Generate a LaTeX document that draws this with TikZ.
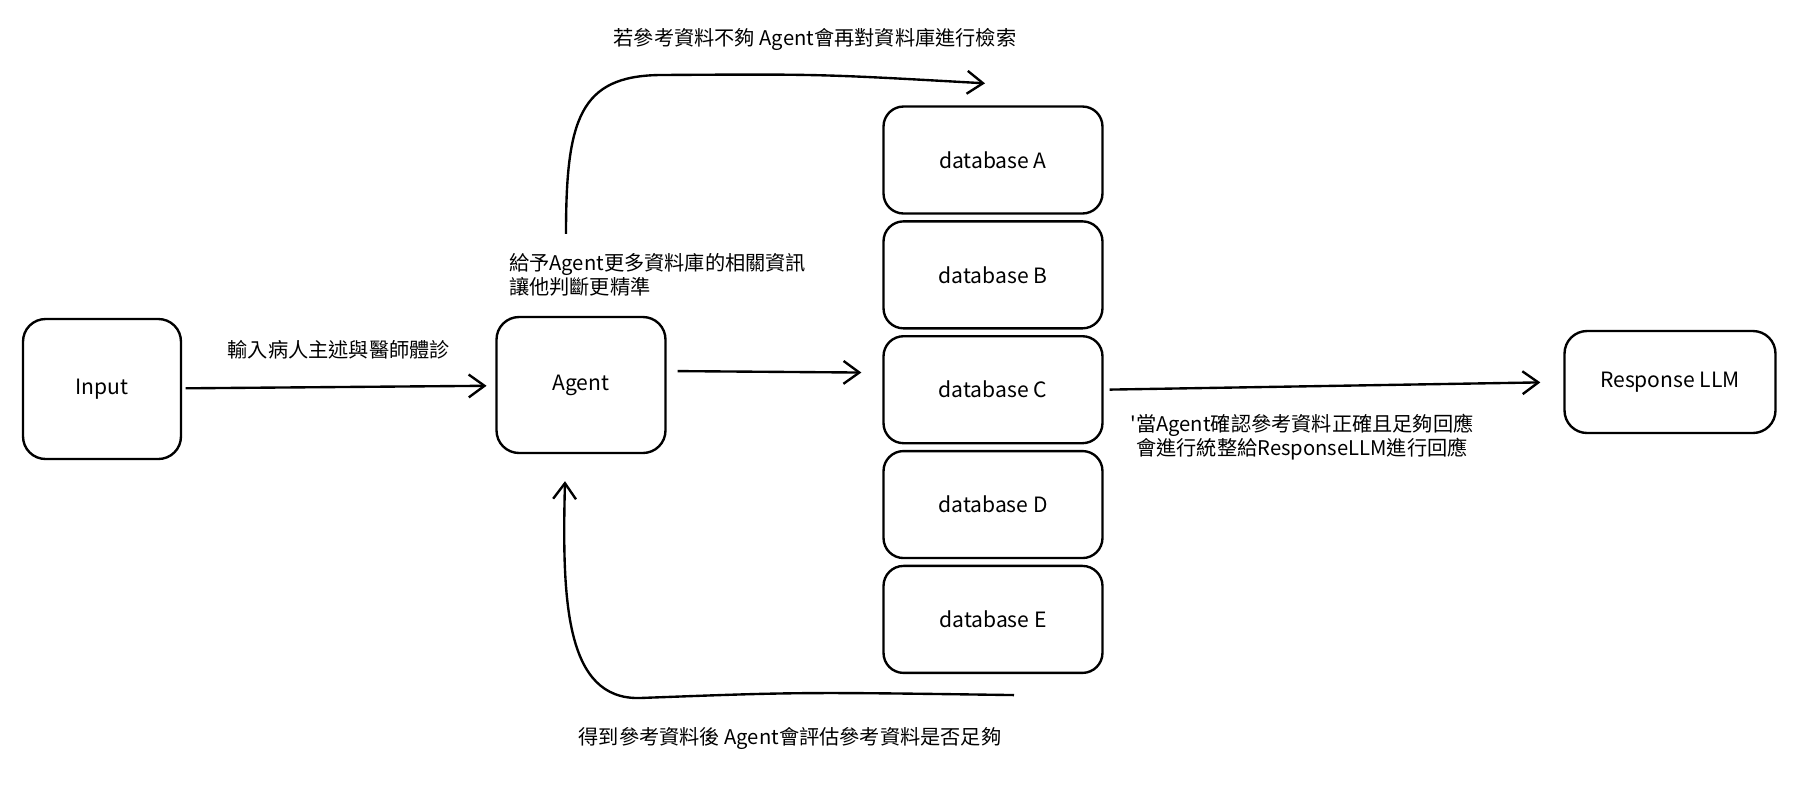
\documentclass[tikz,border=0pt]{standalone}
\usepackage{fontspec}
\setmainfont{Noto Sans CJK TC}[Ligatures=TeXOff]
\usetikzlibrary{arrows.meta,calc,positioning}
\tikzset{
    box/.style={draw, line width=1.35pt, rounded corners=0.45cm, align=center, font=\fontsize{12}{14}\selectfont},
    dbbox/.style={box, rounded corners=0.4cm, minimum width=4.38cm, minimum height=2.14cm},
    flow/.style={-{Straight Barb[length=9pt,width=13pt]}, line width=1.35pt},
    lbl/.style={font=\fontsize{11.5}{14}\selectfont, inner sep=1pt}
}
\begin{document}
\begin{tikzpicture}[x=0.02cm,y=-0.02cm]
    \useasboundingbox (0,0) rectangle (1800,789);
    % Main boxes
    \node[box, minimum width=3.16cm, minimum height=2.8cm] (input) at (102,389) {Input};
    \node[box, minimum width=3.38cm, minimum height=2.72cm] (agent) at (581,385) {Agent};
    \node[box, minimum width=4.22cm, minimum height=2.04cm] (resp) at (1670,382) {Response LLM};
    % Database stack
    \node[dbbox] (dbA) at (993,160) {database A};
    \node[dbbox] (dbB) [below=0.11cm of dbA] {database B};
    \node[dbbox] (dbC) [below=0.11cm of dbB] {database C};
    \node[dbbox] (dbD) [below=0.11cm of dbC] {database D};
    \node[dbbox] (dbE) [below=0.11cm of dbD] {database E};
    % Straight arrows
    \draw[flow, shorten <=2pt, shorten >=5pt] (input) -- (agent)
        node[lbl, midway, above=0.5cm] {輸入病人主述與醫師體診};
    \draw[flow, shorten <=0.22cm, shorten >=0.42cm] ([yshift=0.28cm]agent.east) -- ([yshift=0.34cm]dbC.west);
    \draw[flow, shorten <=0.12cm, shorten >=0.46cm] (dbC.east) -- (resp.west);
    % Loop back arrows
    \coordinate (upstart) at ([xshift=-0.3cm,yshift=1.64cm]agent.north);
    \coordinate (upend) at ([xshift=-0.16cm,yshift=0.44cm]dbA.north);
    \draw[flow] (upstart) .. controls +(0,-115) and (580,76) .. (660,75) .. controls (820,74) .. (upend);
    \coordinate (lowstart) at ([xshift=0.42cm,yshift=-0.42cm]dbE.south);
    \coordinate (lowend) at ([xshift=-0.32cm,yshift=-0.54cm]agent.south);
    \draw[flow] (lowstart) .. controls (800,692) .. (640,698) .. controls (565,700) and (562,600) .. (lowend);
    % Labels
    \node[lbl] (retry) at (815,39) {若參考資料不夠 Agent會再對資料庫進行檢索};
    \node[lbl, align=left, anchor=west] (hint) at (507,275) {給予Agent更多資料庫的相關資訊\\讓他判斷更精準};
    \node[lbl, align=center] (done) at (1302,437) {'當Agent確認參考資料正確且足夠回應\\會進行統整給ResponseLLM進行回應};
    \node[lbl] (check) at (790,738) {得到參考資料後 Agent會評估參考資料是否足夠};
\end{tikzpicture}
\end{document}
